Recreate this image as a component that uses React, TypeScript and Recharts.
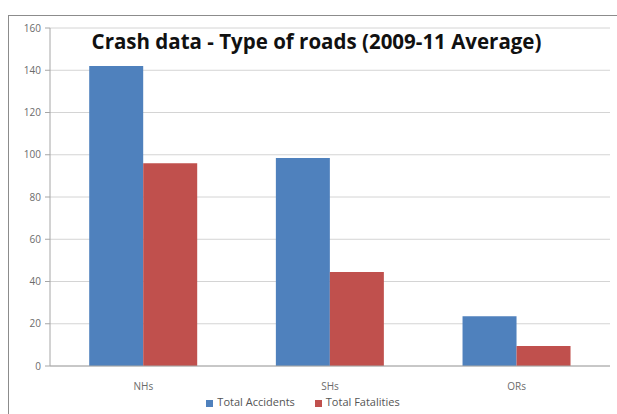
import { Bar, BarChart, CartesianGrid, Legend, XAxis, YAxis } from 'recharts'

const BLUE = '#4F81BD'
const RED = '#C0504D'

const roadTypes = ['NHs', 'SHs', 'ORs']
const totalAccidents = [142, 98.5, 23.5]
const totalFatalities = [96, 44.5, 9.5]
const yTicks = [0, 20, 40, 60, 80, 100, 120, 140, 160]

const data = roadTypes.map((road, i) => ({
  road,
  accidents: totalAccidents[i],
  fatalities: totalFatalities[i],
}))

const tickStyle = { fontSize: 10, fill: '#6b6b6b', fontFamily: 'Open Sans, sans-serif' }

export default function App() {
  return (
    <div
      style={{
        position: 'absolute',
        left: 0,
        top: 0,
        width: 617,
        height: 414,
        background: '#fff',
        overflow: 'hidden',
      }}
    >
      <div
        style={{
          position: 'absolute',
          left: 8,
          top: 15,
          width: 640,
          height: 440,
          borderLeft: '1px solid #8c8c8c',
          borderTop: '1px solid #8c8c8c',
        }}
      />
      <BarChart
        width={617}
        height={414}
        data={data}
        margin={{ top: 28, right: 7, bottom: 0, left: 0 }}
        barCategoryGap="21%"
        barGap={0}
      >
        <CartesianGrid stroke="#d4d4d4" vertical={false} />
        <XAxis
          dataKey="road"
          height={28}
          stroke="#a6a6a6"
          tickLine={false}
          tickMargin={11}
          tick={tickStyle}
          interval={0}
        />
        <YAxis
          width={50}
          domain={[0, 160]}
          ticks={yTicks}
          interval={0}
          stroke="#a6a6a6"
          tickSize={5}
          tickMargin={4}
          tick={tickStyle}
        />
        <Legend
          verticalAlign="bottom"
          height={20}
          iconType="square"
          iconSize={7}
          wrapperStyle={{ fontSize: 11, fontFamily: 'Open Sans, sans-serif', paddingLeft: 8 }}
          formatter={(value) => (
            <span style={{ color: '#555', marginRight: 10 }}>{value}</span>
          )}
        />
        <Bar dataKey="accidents" name="Total Accidents" fill={BLUE} isAnimationActive={false} />
        <Bar dataKey="fatalities" name="Total Fatalities" fill={RED} isAnimationActive={false} />
      </BarChart>
      <div
        style={{
          position: 'absolute',
          left: 0,
          width: 633,
          top: 27,
          textAlign: 'center',
          fontFamily: 'Open Sans, sans-serif',
          fontWeight: 700,
          fontSize: 20.5,
          lineHeight: '28px',
          color: '#111',
          whiteSpace: 'nowrap',
        }}
      >
        Crash data - Type of roads (2009-11 Average)
      </div>
    </div>
  )
}
